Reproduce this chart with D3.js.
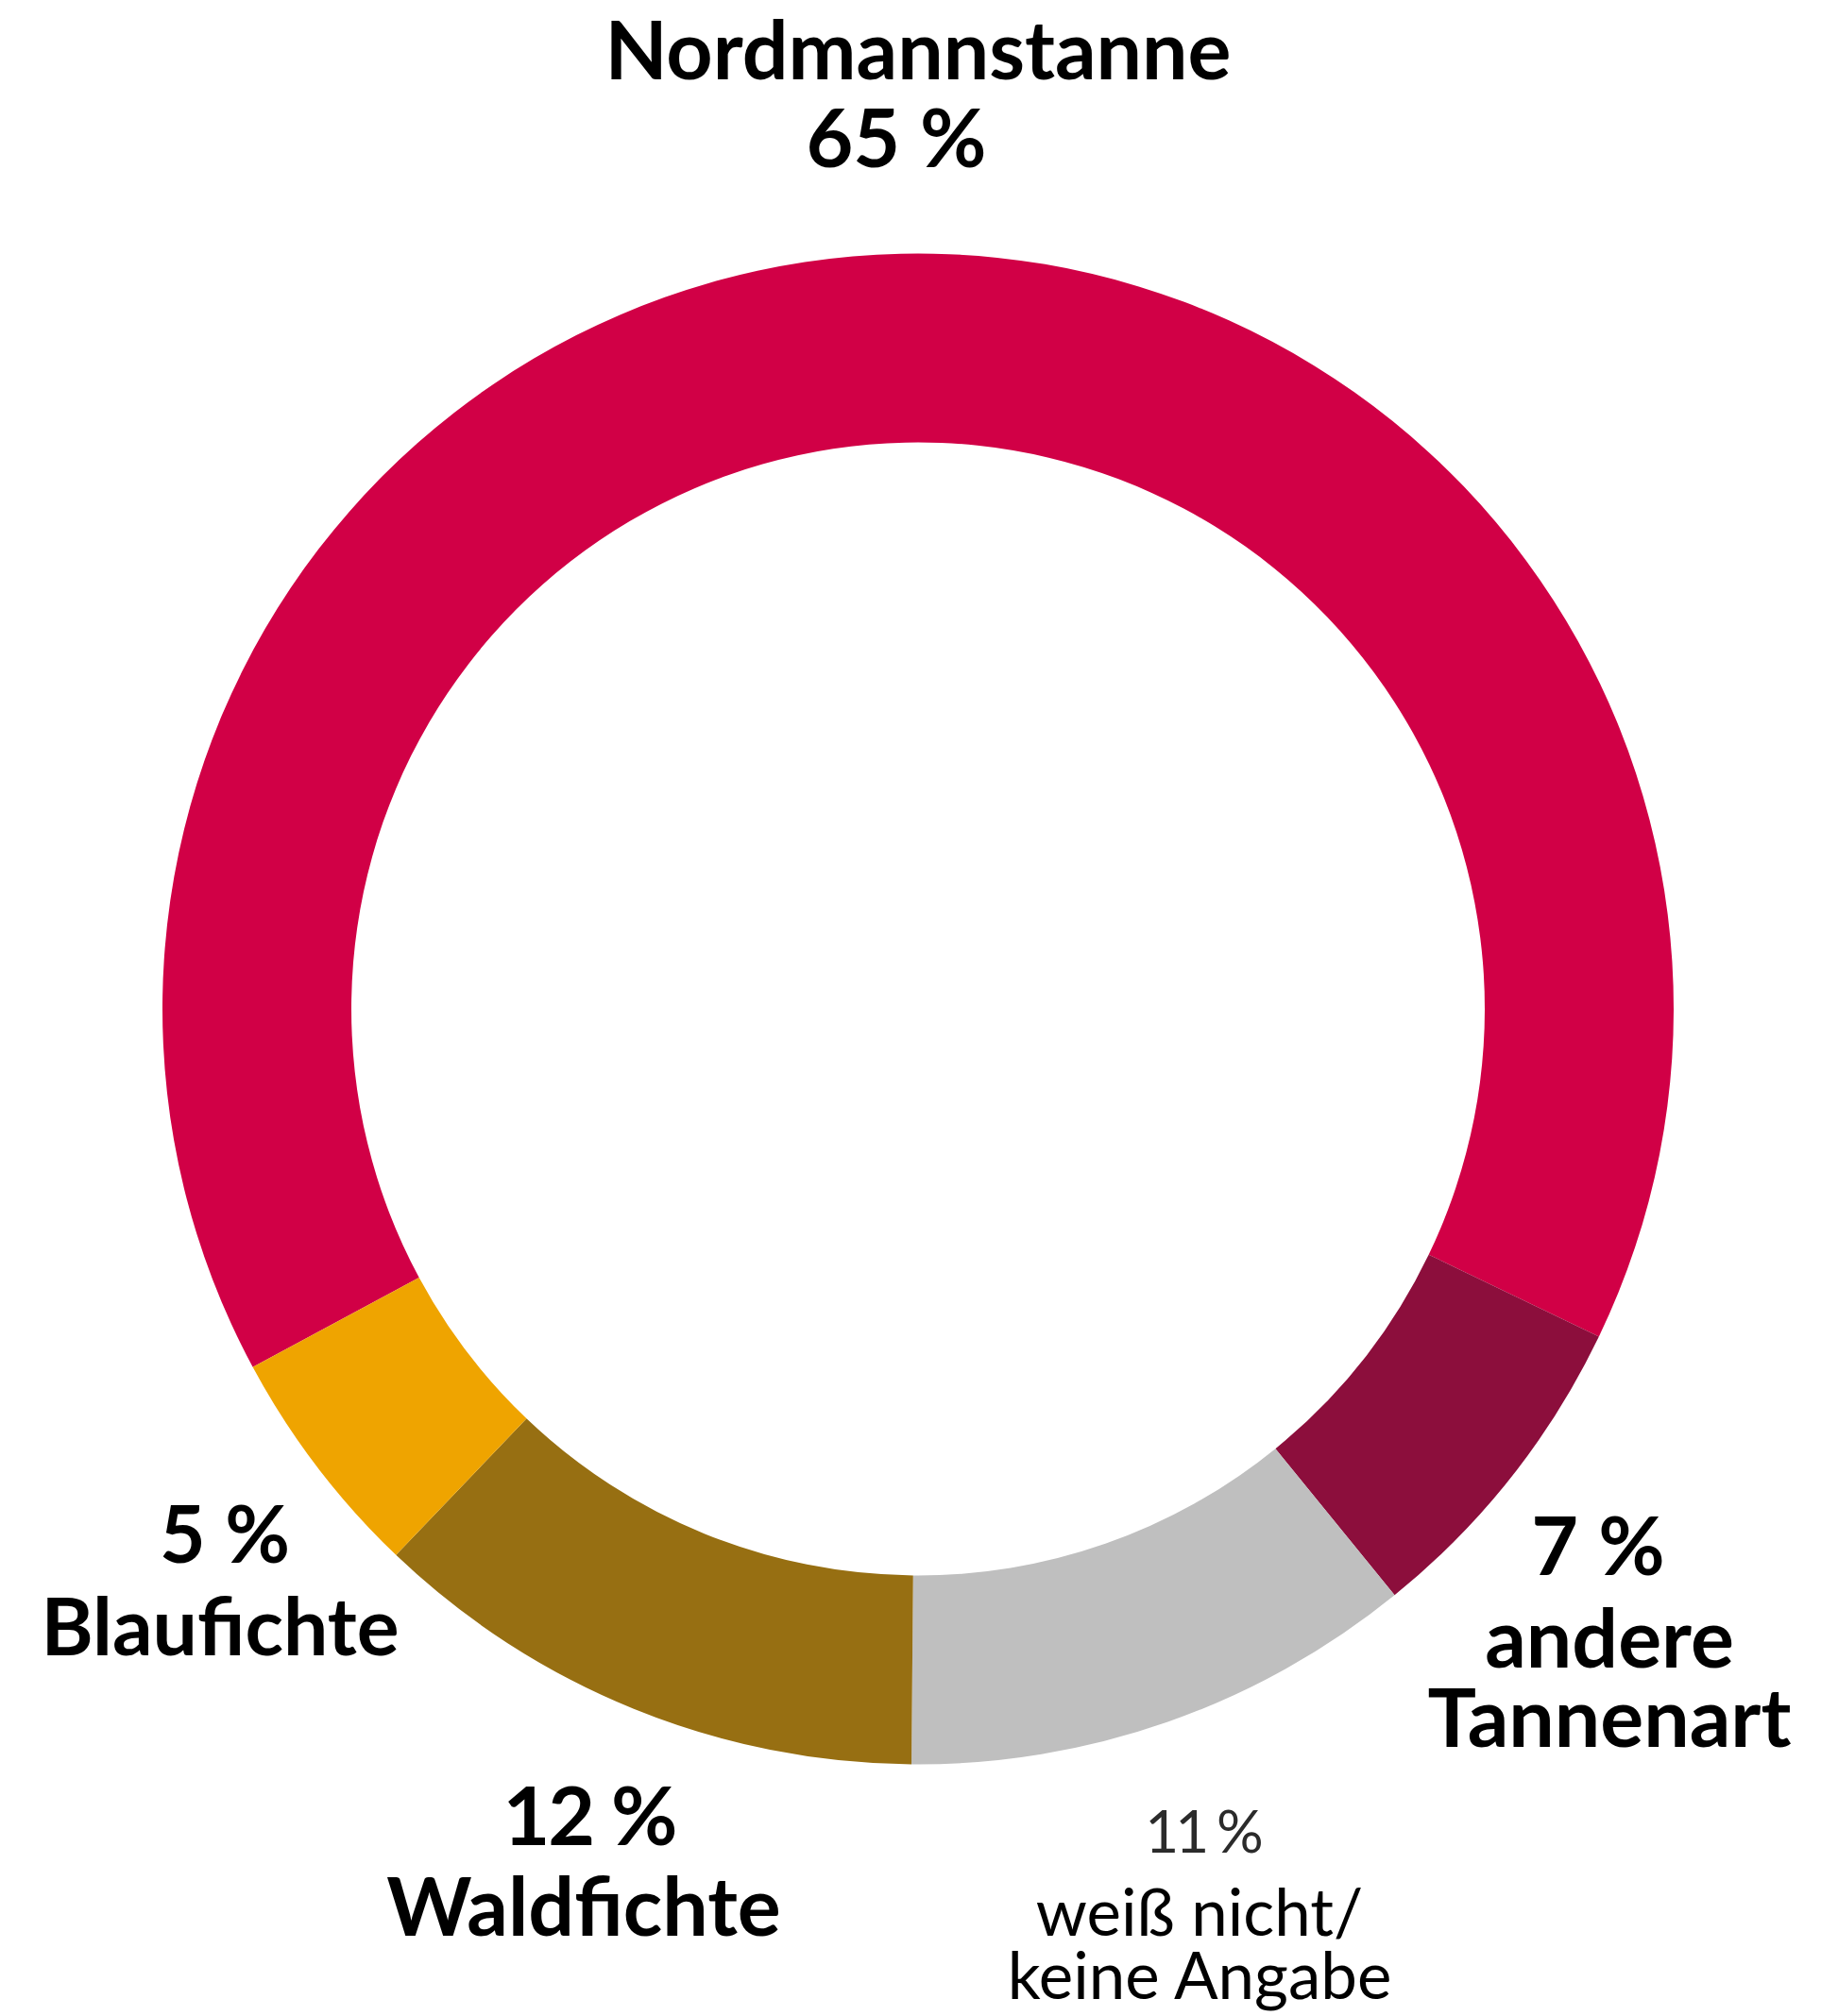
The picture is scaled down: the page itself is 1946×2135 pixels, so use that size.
<!DOCTYPE html>
<html>
<head>
<meta charset="utf-8">
<script src="https://cdn.jsdelivr.net/npm/d3@7"></script>
<style>
  html, body { margin: 0; padding: 0; background: #fff; }
  svg { display: block; }
</style>
</head>
<body>
<svg id="chart" width="1946" height="2135"></svg>
<script>
// Data
const categories = ["Nordmannstanne", "andere Tannenart", "weiß nicht/ keine Angabe", "Waldfichte", "Blaufichte"];
const values = [65, 7, 11, 12, 5];
const colors = ["#D10046", "#8C0E3C", "#BFBFBF", "#976F12", "#EFA400"];
const labelLines = [
  ["Nordmannstanne", "65 %"],
  ["7 %", "andere", "Tannenart"],
  ["11 %", "weiß nicht/", "keine Angabe"],
  ["12 %", "Waldfichte"],
  ["5 %", "Blaufichte"]
];

const W = 1946, H = 2135;
const cx = 972, cy = 1068.5;
const outerR = 800, innerR = 600;
const startDeg = -118.3;

const svg = d3.select("#chart");
const g = svg.append("g").attr("transform", `translate(${cx},${cy})`);

const pie = d3.pie().sort(null).value(d => d.v)
  .startAngle(startDeg * Math.PI / 180)
  .endAngle(startDeg * Math.PI / 180 + 2 * Math.PI);
const arc = d3.arc().innerRadius(innerR).outerRadius(outerR);

const data = categories.map((c, i) => ({ c, v: values[i], col: colors[i] }));
const arcs = pie(data);

g.selectAll("path.slice").data(arcs).enter().append("path")
  .attr("class", "slice")
  .attr("d", arc)
  .attr("fill", d => d.data.col);

// Label layout: per line centre x, baseline y, style
const labelPos = [
  { xs: [972, 949], y: 84, gaps: [93], styles: ["b", "b"] },
  { xs: [1692, 1704, 1704], y: 1668, gaps: [98, 84], styles: ["b", "b", "b"] },
  { xs: [1273, 1270, 1270], y: 1962, gaps: [88, 67], styles: ["l", "r", "r"] },
  { xs: [624, 618], y: 1954, gaps: [96], styles: ["b", "b"] },
  { xs: [238, 233], y: 1655, gaps: [98], styles: ["b", "b"] }
];

const font = "Lato, 'Open Sans', sans-serif";
labelLines.forEach((lines, i) => {
  const p = labelPos[i];
  let y = p.y;
  lines.forEach((t, j) => {
    const st = p.styles[j];
    const txt = svg.append("text")
      .attr("x", p.xs[j])
      .attr("y", y)
      .attr("text-anchor", "middle")
      .attr("font-family", font)
      .attr("font-size", st === "b" ? (i === 4 ? 84 : 86) : (st === "l" ? 62 : 69))
      .attr("font-weight", 400)
      .attr("fill", st === "l" ? "#2b2b2b" : "#000000")
      .text(t);
    if (st === "b") txt.attr("font-weight", 700);
    if (st === "l") txt.attr("letter-spacing", -4);
    if (i === 3 && j === 0) txt.attr("letter-spacing", -2);
    if (j < p.gaps.length) y += p.gaps[j];
  });
});
</script>
</body>
</html>
